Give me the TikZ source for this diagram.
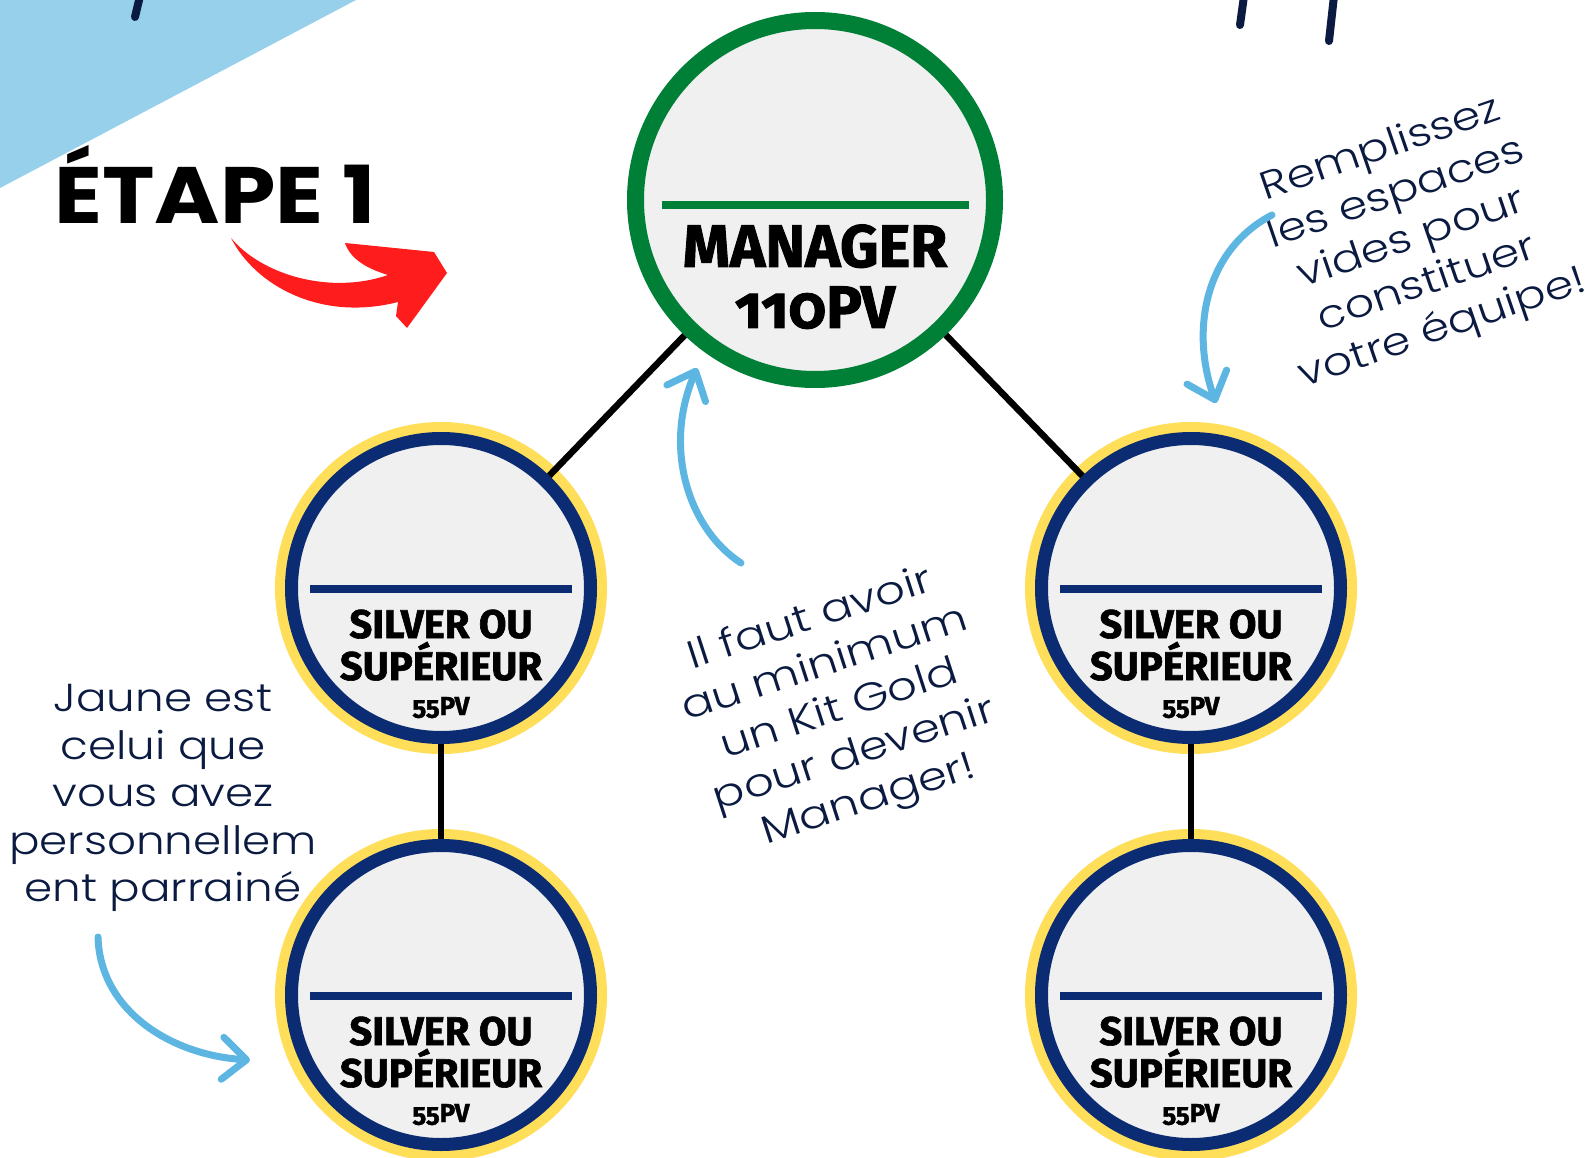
\documentclass[tikz,border=0pt]{standalone}
\usepackage{fontspec}
\setmainfont{Poppins}
\newfontfamily\badgefont{Fira Sans}[Numbers=OldStyle, BoldFeatures={FakeBold=1.5}]
\newfontfamily\handfont{Poppins Light}
\usetikzlibrary{arrows.meta}

\definecolor{leaf}{HTML}{008037}
\definecolor{navy}{HTML}{0B2B73}
\definecolor{gold}{HTML}{FFDE59}
\definecolor{paper}{HTML}{F0F0F0}
\definecolor{sky}{HTML}{5DB6E2}
\definecolor{pale}{HTML}{97D0EB}
\definecolor{ink}{HTML}{0A1A40}
\definecolor{flame}{HTML}{FF1C1C}

\begin{document}
\begin{tikzpicture}[
    x=1pt, y=-1pt,
    mgrring/.style={circle, inner sep=0pt, minimum size=359pt, fill=paper,
                    draw=leaf, line width=17pt},
    silver/.style={circle, inner sep=0pt, minimum size=299pt, fill=paper,
                   draw=navy, line width=13pt, preaction={draw=gold, line width=33pt}},
    leafbar/.style={draw=leaf, line width=8pt},
    navybar/.style={draw=navy, line width=8pt},
    badge/.style={inner sep=0pt, anchor=base},
    hand/.style={font=\handfont\fontsize{39}{47.5}\selectfont, text=ink,
                 align=center, inner sep=0pt},
    wire/.style={draw=black, line width=6.5pt},
    swoop/.style={draw=sky, line width=7pt, line cap=round,
                  -{Straight Barb[length=24pt, width=42pt, round]}},
    stroke/.style={draw=ink, line width=8pt, line cap=round}
]
    \useasboundingbox (0,0) rectangle (1596,1158);
    \fill[white] (0,0) rectangle (1596,1158);

    % corner and brush marks
    \fill[pale] (0,0) -- (356,0) -- (0,188) -- cycle;
    \draw[stroke] (140,-4) -- (135,17);
    \draw[stroke] (1244,-4) -- (1240,25);
    \draw[stroke] (1334,-4) -- (1329,41);

    % title
    \node[font=\bfseries\fontsize{80}{80}\selectfont, inner sep=0pt, anchor=base west,
          xscale=1.11] (etape) at (54,224) {ÉTAPE 1};
    \fill[flame] (231,238) .. controls (255,285) and (320,322) .. (398,302)
        -- (396,316) -- (407,328) -- (447,273) -- (434,252) -- (345,243)
        .. controls (350,258) and (365,268) .. (388,275)
        .. controls (330,295) and (262,275) .. (231,238) -- cycle;

    % manager
    \node[mgrring] (mgr) at (815,200) {};
    \draw[leafbar] (mgr.center) ++(-153,5) -- ++(307,0);
    \node[badge, font=\badgefont\bfseries\fontsize{60}{60}\selectfont] (mgr-a)
        at ([yshift=-67pt]mgr.center) {MANAGER};
    \node[badge, font=\badgefont\bfseries\fontsize{60}{60}\selectfont] (mgr-b)
        at ([yshift=-128pt]mgr.center) {110PV};

    % silver circles
    \foreach \n/\cx/\cy in {sl1/441/588, sl2/441/995, sr1/1191/588, sr2/1191/995}{
        \node[silver] (\n) at (\cx,\cy) {};
        \draw[navybar] (\n.center) ++(-131,1) -- ++(262,0);
        \node[badge, font=\badgefont\bfseries\fontsize{40}{40}\selectfont] (\n-a)
            at ([yshift=-50pt]\n.center) {SILVER OU};
        \node[badge, font=\badgefont\bfseries\fontsize{40}{40}\selectfont] (\n-b)
            at ([yshift=-92pt]\n.center) {SUPÉRIEUR};
        \node[badge, font=\badgefont\bfseries\fontsize{26}{26}\selectfont] (\n-c)
            at ([yshift=-127pt]\n.center) {55PV};
    }

    \draw[wire] (mgr) -- (sl1);
    \draw[wire] (mgr) -- (sr1);
    \draw[wire] (sl1) -- (sl2);
    \draw[wire] (sr1) -- (sr2);

    % notes
    \node[hand, xscale=1.16] (notejaune) at (163,798)
        {Jaune est\\celui que\\vous avez\\personnellem\\ent parrainé};
    \node[hand, rotate=18, xscale=1.2] (notekit) at (840,711)
        {Il faut avoir\\au minimum\\un Kit Gold\\pour devenir\\Manager!};
    \node[hand, rotate=19, xscale=1.18] (noteplaces) at (1412,240)
        {Remplissez\\les espaces\\vides pour\\constituer\\votre équipe!};

    \coordinate (kittail) at (741,563);
    \coordinate (kittip) at (697,368);
    \coordinate (placestail) at (1272,215);
    \coordinate (placestip) at (1216,403);
    \coordinate (jaunetail) at (98,937);
    \coordinate (jaunetip) at (250,1060);
    \draw[swoop] (kittail) .. controls (690,530) and (662,450) .. (kittip);
    \draw[swoop] (placestail) .. controls (1205,250) and (1190,330) .. (placestip);
    \draw[swoop] (jaunetail) .. controls (100,1010) and (170,1055) .. (jaunetip);
\end{tikzpicture}
\end{document}
